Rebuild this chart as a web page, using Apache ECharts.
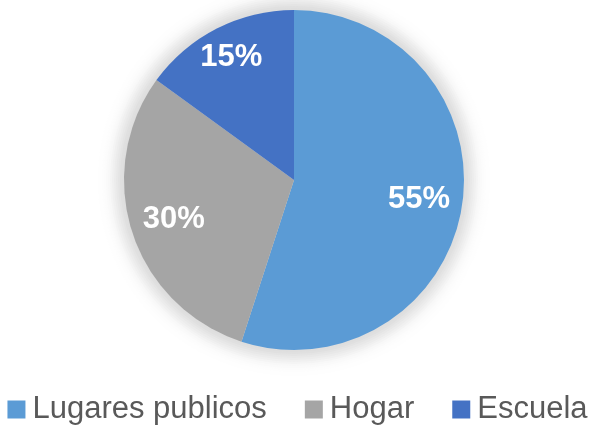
<!DOCTYPE html>
<html>
<head>
<meta charset="utf-8">
<script src="https://cdn.jsdelivr.net/npm/echarts@6/dist/echarts.min.js"></script>
<style>
  html, body { margin: 0; padding: 0; background: #fff; }
  #main { width: 595px; height: 426px; }
</style>
</head>
<body>
<div id="main"></div>
<script>
const categories = ['Lugares publicos', 'Hogar', 'Escuela'];
const values = [55, 30, 15];
const colors = ['#5B9BD5', '#A5A5A5', '#4472C4'];

const chart = echarts.init(document.getElementById('main'));

const slices = categories.map((name, i) => ({
  name: name,
  value: values[i],
  itemStyle: { color: colors[i] }
}));

const labelStyle = {
  show: true,
  position: 'inside',
  formatter: '{c}%',
  color: '#ffffff',
  fontFamily: 'Liberation Sans, Arial',
  fontWeight: 'bold',
  fontSize: 31
};

// transparent ring used only to push labels out from the centre
const labelRing = (inner, showFor) => ({
  type: 'pie',
  center: [294, 180],
  radius: [inner, 170],
  startAngle: 90,
  clockwise: true,
  itemStyle: { color: 'rgba(0,0,0,0)' },
  label: labelStyle,
  labelLine: { show: false },
  data: categories.map((name, i) => ({
    name: name + ' ',
    value: values[i],
    label: { show: showFor.includes(i) }
  }))
});

// soft glow: stacked grey discs, outer (lightest) first
const glowDiscs = [];
for (let r = 204; r >= 170; r -= 2) {
  const f = Math.exp(-Math.pow((r - 170) / 13, 2));
  const g = Math.round(255 - 34 * f);
  glowDiscs.push({
    type: 'pie',
    center: [294, 180],
    radius: [0, r],
    label: { show: false },
    itemStyle: { color: 'rgb(' + g + ',' + g + ',' + g + ')' },
    data: [{ name: 'glow', value: 1 }]
  });
}

const option = {
  legend: {
    data: categories,
    left: 'center',
    top: 389,
    itemWidth: 18,
    itemHeight: 18,
    itemGap: 38,
    icon: 'rect',
    textStyle: {
      fontFamily: 'Liberation Sans, Arial',
      fontSize: 31,
      color: '#595959',
      padding: [0, 0, 0, 2]
    }
  },
  series: glowDiscs.concat([
    {
      type: 'pie',
      center: [294, 180],
      radius: [0, 170],
      startAngle: 90,
      clockwise: true,
      label: { show: false },
      labelLine: { show: false },
      data: slices
    },
    labelRing(77, [0, 1]),
    labelRing(100, [2])
  ])
};

chart.setOption(option);
</script>
</body>
</html>
